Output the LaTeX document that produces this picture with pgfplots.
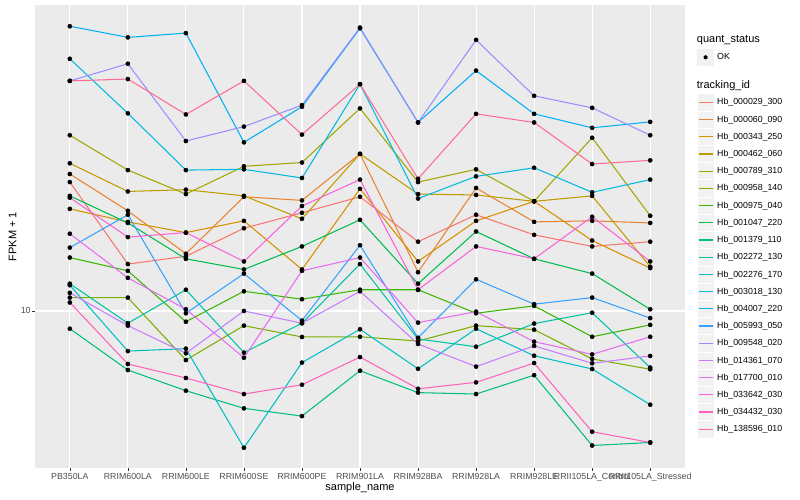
\documentclass[border=0pt]{standalone}
\usepackage{fontspec}
\setmainfont{Liberation Sans}
\usepackage{pgfplots}
\usepackage{pgfplotstable}
\pgfplotsset{compat=1.18}
\definecolor{c1}{HTML}{F8766D}
\definecolor{c2}{HTML}{EA8331}
\definecolor{c3}{HTML}{D89000}
\definecolor{c4}{HTML}{C09B00}
\definecolor{c5}{HTML}{A3A500}
\definecolor{c6}{HTML}{7CAE00}
\definecolor{c7}{HTML}{39B600}
\definecolor{c8}{HTML}{00BB4E}
\definecolor{c9}{HTML}{00BF7D}
\definecolor{c10}{HTML}{00C1A3}
\definecolor{c11}{HTML}{00BFC4}
\definecolor{c12}{HTML}{00BAE0}
\definecolor{c13}{HTML}{00B0F6}
\definecolor{c14}{HTML}{35A2FF}
\definecolor{c15}{HTML}{9590FF}
\definecolor{c16}{HTML}{C77CFF}
\definecolor{c17}{HTML}{E76BF3}
\definecolor{c18}{HTML}{FA62DB}
\definecolor{c19}{HTML}{FF62BC}
\definecolor{c20}{HTML}{FF6C91}
\definecolor{panelbg}{HTML}{EBEBEB}
\definecolor{gray30}{HTML}{4D4D4D}
\definecolor{gray20}{HTML}{333333}
\definecolor{keybg}{HTML}{F2F2F2}

\pgfplotstableread{
x s1 s2 s3 s4 s5 s6 s7 s8 s9 s10 s11 s12 s13 s14 s15 s16 s17 s18 s19 s20
0 21.0 22.0 18.0 23.4 27.5 10.8 13.6 19.4 9.03 11.7 11.6 42.7 51.5 14.4 37.6 11.1 15.6 19.2 10.5 37.6
1 13.1 17.8 16.7 19.9 22.5 10.8 12.6 16.6 7.12 9.32 7.94 31.2 48.3 17.4 41.5 9.19 12.1 15.3 7.37 38.0
2 13.7 13.9 15.7 20.1 19.6 7.54 9.40 13.5 6.32 11.3 8.05 22.5 49.5 9.87 26.6 7.84 10.1 15.7 6.80 31.0
3 16.1 19.3 16.8 19.4 23.0 9.19 11.2 12.7 5.71 7.87 4.55 22.6 26.4 12.4 28.9 10.0 7.64 13.3 6.20 37.6
4 17.6 18.9 12.7 17.0 23.5 8.61 10.7 14.5 5.46 9.32 7.43 21.5 32.4 9.46 32.7 9.32 12.6 18.3 6.54 27.6
5 19.3 24.7 20.2 24.7 32.1 8.62 11.3 16.9 7.09 13.1 9.00 36.9 50.9 14.6 51.1 11.2 13.6 21.3 7.67 36.9
6 14.9 12.5 13.3 19.6 21.0 8.41 11.3 11.7 6.25 8.51 7.17 19.1 29.6 8.57 29.6 8.27 9.35 11.3 6.39 21.4
7 17.4 20.3 16.8 19.5 22.6 9.19 9.87 15.8 6.20 8.14 9.03 21.7 39.9 12.0 47.6 7.26 9.96 14.5 6.63 31.1
8 15.5 16.7 18.8 18.8 18.8 8.98 10.3 13.5 6.91 9.30 7.73 22.8 31.1 10.4 34.5 8.18 8.38 13.5 7.41 29.6
9 14.5 16.8 15.0 19.4 27.1 7.59 8.62 12.4 4.61 9.90 7.16 19.8 28.7 10.8 32.2 7.40 7.79 17.2 4.99 23.3
10 14.9 16.6 12.8 12.9 17.3 7.15 9.23 10.1 4.69 7.22 5.83 21.3 29.7 9.60 27.5 7.72 8.62 13.3 4.69 23.8
}\data

\begin{document}
\begin{tikzpicture}[x=1pt,y=1pt]
\path[use as bounding box] (0,0) rectangle (800,500);
\begin{axis}[
  at={(35pt,32pt)}, anchor=south west,
  scale only axis, width=650pt, height=463pt,
  xmin=-0.6, xmax=10.6,
  ymode=log, ymin=4.05, ymax=58.2,
  axis background/.style={fill=panelbg},
  axis line style={draw=none},
  xtick={0,...,10},
  xticklabels={PB350LA,RRIM600LA,RRIM600LE,RRIM600SE,RRIM600PE,RRIM901LA,RRIM928BA,RRIM928LA,RRIM928LE,RRII105LA\_Control,RRII105LA\_Stressed},
  ytick={10}, yticklabels={10},
  minor ytick={}, minor xtick={},
  /pgf/number format/assume math mode=true,
  grid=major,
  major grid style={white, line width=1.07pt},
  tick align=outside, tick pos=left,
  major tick length=2.75pt,
  tick style={gray20, line width=0.6pt},
  xticklabel style={font=\fontsize{8.8}{10}\selectfont, text=gray30, inner sep=0pt, anchor=north, yshift=-2.6pt},
  yticklabel style={font=\fontsize{8.8}{10}\selectfont, text=gray30, inner sep=0pt, anchor=east, xshift=-1.5pt},
  clip=false,
]
\pgfplotsinvokeforeach{1,...,20}{
  \addplot[c#1, line width=1.05pt, mark=none] table[x=x,y=s#1]{\data};
}
\pgfplotsinvokeforeach{1,...,20}{
  \addplot[only marks, mark=*, mark size=2.1pt, black] table[x=x,y=s#1]{\data};
}
\end{axis}
\node[font=\fontsize{11}{13}\selectfont, rotate=90] at (12.5,263.5) {FPKM + 1};
\node[font=\fontsize{11}{13}\selectfont] at (360,12) {sample\_name};
% legend
\node[font=\fontsize{11}{13}\selectfont, anchor=mid west, inner sep=0pt] at (696.7,460) {quant\_status};
\fill[keybg] (697,434.1) rectangle (714.3,451.3);
\fill[black] (705.6,442.7) circle (2.1);
\node[font=\fontsize{8.8}{10}\selectfont, anchor=mid west, inner sep=0pt] at (717,442.7) {OK};
\node[font=\fontsize{11}{13}\selectfont, anchor=mid west, inner sep=0pt] at (696.7,414) {tracking\_id};
\foreach \n [count=\i from 0] in {000029\_300,000060\_090,000343\_250,000462\_060,000789\_310,000958\_140,000975\_040,001047\_220,001379\_110,002272\_130,002276\_170,003018\_130,004007\_220,005993\_050,009548\_020,014361\_070,017700\_010,033642\_030,034432\_030,138596\_010}{
  \pgfmathsetmacro{\cy}{397.7-17.21*\i}
  \pgfmathtruncatemacro{\ci}{\i+1}
  \fill[keybg, draw=white, line width=0.5pt] (697,\cy-8.6) rectangle (714.3,\cy+8.6);
  \draw[c\ci, line width=1.2pt] (698.7,\cy) -- (712.6,\cy);
  \node[font=\fontsize{8.8}{10}\selectfont, anchor=mid west, inner sep=0pt] at (717,\cy) {Hb\_\n};
}
\end{tikzpicture}
\end{document}
